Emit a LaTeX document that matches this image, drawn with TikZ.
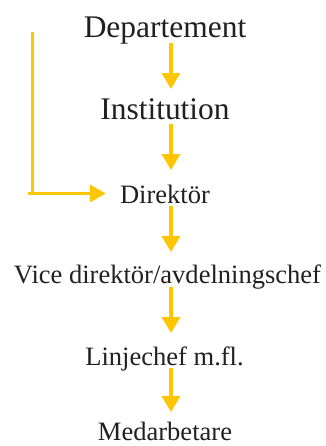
\documentclass[tikz,border=0pt]{standalone}
\usepackage{fontspec}
\setmainfont{Liberation Serif}
\usetikzlibrary{arrows.meta,calc}
\definecolor{gold}{RGB}{255,198,0}
\definecolor{txt}{RGB}{35,31,32}
\begin{document}
\begin{tikzpicture}[x=0.75pt,y=-0.75pt,
  big/.style={inner sep=0pt,anchor=base,text=txt,font=\fontsize{23.6}{28}\selectfont},
  small/.style={inner sep=0pt,anchor=base,text=txt,font=\fontsize{19.9}{24}\selectfont},
  flow/.style={draw=gold,line width=2.6pt,-{Triangle[length=12pt,width=13.5pt]}},
  side/.style={draw=gold,line width=2pt}]
\useasboundingbox (0,0) rectangle (325,446);
\node[big] (dep) at (165,37) {Departement};
\node[big] (ins) at (165,119) {Institution};
\node[small] (dir) at (165,203) {Direktör};
\node[small] (vice) at (167.5,283) {Vice direktör/avdelningschef};
\node[small] (lin) at (164.5,365) {Linjechef m.fl.};
\node[small] (med) at (165,440) {Medarbetare};
\draw[flow] ($(dep.base)+(6,6)$) -- ($(ins.base)+(6,-30)$);
\draw[flow] ($(ins.base)+(6,5)$) -- ($(dir.base)+(6,-33)$);
\draw[flow] ($(dir.base)+(6,3)$) -- ($(vice.base)+(3.5,-31)$);
\draw[flow] ($(vice.base)+(3.5,4)$) -- ($(lin.base)+(6.5,-32)$);
\draw[flow] ($(lin.base)+(6.5,3)$) -- ($(med.base)+(6,-28)$);
\coordinate (top) at (32.8,32);
\coordinate (corner) at (32.8,194.5);
\coordinate (left) at (28,193.5);
\draw[side] (top) -- (corner);
\draw[side,line width=2.6pt,-{Triangle[length=12pt,width=12.8pt]}] (left) -- ($(dir.base west)+(-14,-9.5)$);
\end{tikzpicture}
\end{document}
